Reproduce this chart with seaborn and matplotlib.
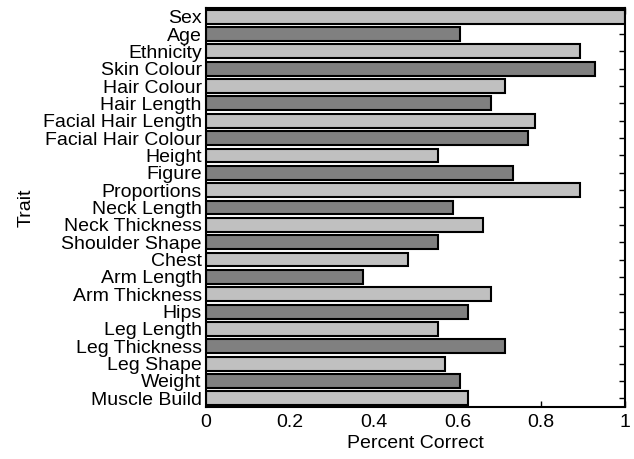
import numpy as np
import pandas as pd
import matplotlib
matplotlib.use("Agg")
import matplotlib.pyplot as plt
import seaborn as sns

traits = ["Sex", "Age", "Ethnicity", "Skin Colour", "Hair Colour", "Hair Length",
          "Facial Hair Length", "Facial Hair Colour", "Height", "Figure", "Proportions",
          "Neck Length", "Neck Thickness", "Shoulder Shape", "Chest", "Arm Length",
          "Arm Thickness", "Hips", "Leg Length", "Leg Thickness", "Leg Shape",
          "Weight", "Muscle Build"]
percent_correct = [1.0, 0.607, 0.893, 0.929, 0.714, 0.679,
                   0.786, 0.768, 0.554, 0.732, 0.893,
                   0.589, 0.661, 0.554, 0.482, 0.375,
                   0.679, 0.625, 0.554, 0.714, 0.571,
                   0.607, 0.625]
x_ticks = [0, 0.2, 0.4, 0.6, 0.8, 1]
x_ticklabels = ["0", "0.2", "0.4", "0.6", "0.8", "1"]

df = pd.DataFrame({"Trait": traits, "Percent Correct": percent_correct})

sns.set_style("ticks")
plt.rcParams['font.family'] = ['Liberation Sans', 'DejaVu Sans']
plt.rcParams['xtick.direction'] = 'in'
plt.rcParams['ytick.direction'] = 'in'
plt.rcParams['text.color'] = 'black'
plt.rcParams['axes.labelcolor'] = 'black'
plt.rcParams['xtick.color'] = 'black'
plt.rcParams['ytick.color'] = 'black'
plt.rcParams['axes.edgecolor'] = 'black'

# alternating light / dark grey bars
colors = {t: ('#c0c0c0' if i % 2 == 0 else '#808080') for i, t in enumerate(traits)}

fig = plt.figure(figsize=(6.34, 4.59), dpi=100)
ax = fig.add_axes([206 / 634, 1 - 407 / 459, (625 - 206) / 634, (407 - 8) / 459])

sns.barplot(data=df, x="Percent Correct", y="Trait", hue="Trait", palette=colors,
            legend=False, orient="h", width=0.8, edgecolor="black", linewidth=1.5,
            saturation=1, ax=ax)

ax.set_xlim(0, 1)
ax.set_ylim(len(traits) - 0.5, -0.5)
ax.set_xticks(x_ticks)
ax.set_xticklabels(x_ticklabels)
ax.tick_params(axis='both', labelsize=14, length=4, width=1, top=True, right=True,
               colors='black')
ax.tick_params(axis='x', pad=5)
ax.tick_params(axis='y', pad=3)
for s in ax.spines.values():
    s.set_linewidth(1.5)
    s.set_visible(True)
ax.set_xlabel("Percent Correct", fontsize=14, labelpad=3)
ax.set_ylabel("Trait", fontsize=14, labelpad=6)

plt.savefig("out.png", dpi=100)
